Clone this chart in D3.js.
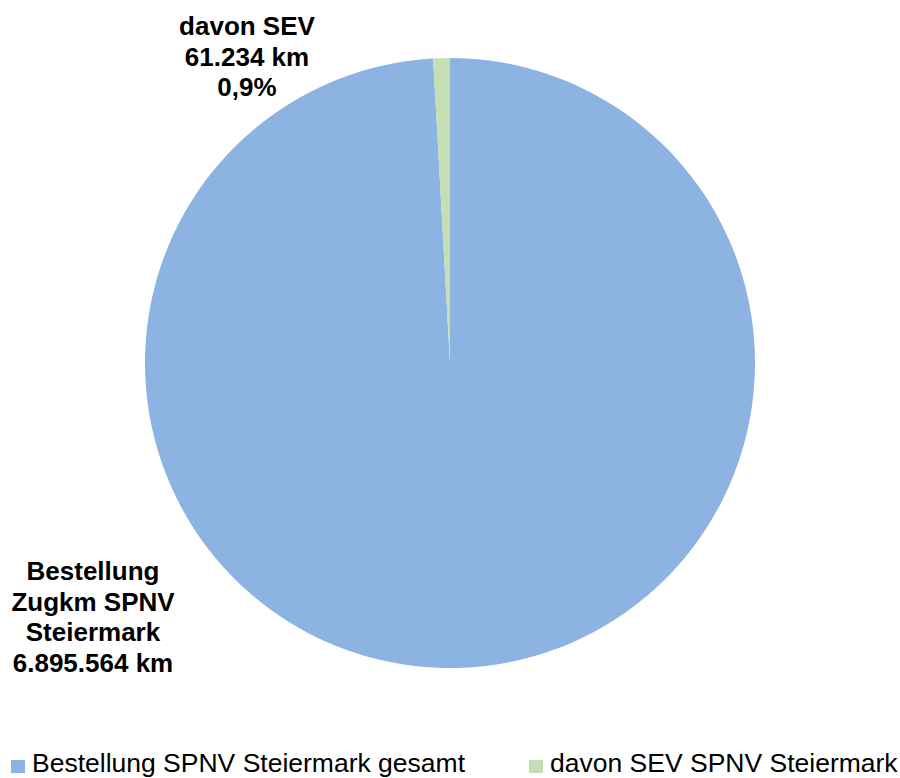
<!DOCTYPE html>
<html>
<head>
<meta charset="utf-8">
<script src="https://cdn.jsdelivr.net/npm/d3@7"></script>
<style>
  body { margin: 0; background: #fff; }
  text { font-family: "Liberation Sans", Arial, sans-serif; }
</style>
</head>
<body>
<div id="chart"></div>
<script>
// data
var categories = ["Bestellung SPNV Steiermark gesamt", "davon SEV SPNV Steiermark"];
var values = [6895564, 61234];
var labels = [
    ["Bestellung", "Zugkm SPNV", "Steiermark", "6.895.564 km"],
    ["davon SEV", "61.234 km", "0,9%"]
];
var colors = ["#8DB3E2", "#C4DFB4"];

var width = 900,
    height = 778,
    cx = 450,
    cy = 363,
    radius = 305;

var svg = d3.select("#chart").append("svg")
    .attr("width", width)
    .attr("height", height);

var pie = d3.pie().sort(null).value(function(d) { return d; });
var arc = d3.arc().innerRadius(0).outerRadius(radius);

var g = svg.append("g").attr("transform", "translate(" + cx + "," + cy + ")");

g.selectAll("path")
    .data(pie(values))
    .enter().append("path")
    .attr("d", arc)
    .attr("fill", function(d, i) { return colors[i]; });

// data labels (placed outside, like the original)
var labelPos = [[93, 580], [247, 35]];
var lineH = 30.5;

labels.forEach(function(lines, i) {
    var t = svg.append("text")
        .attr("text-anchor", "middle")
        .attr("font-size", 26)
        .attr("font-weight", "bold")
        .attr("fill", "#000");
    lines.forEach(function(s, j) {
        t.append("tspan")
            .attr("x", labelPos[i][0])
            .attr("y", labelPos[i][1] + j * lineH)
            .text(s);
    });
});

// legend
var legendX = [11, 529];
var legend = svg.selectAll(".legend")
    .data(categories)
    .enter().append("g")
    .attr("class", "legend")
    .attr("transform", function(d, i) { return "translate(" + legendX[i] + ",0)"; });

legend.append("rect")
    .attr("x", 0)
    .attr("y", 760)
    .attr("width", 14)
    .attr("height", 13)
    .attr("fill", function(d, i) { return colors[i]; });

legend.append("text")
    .attr("x", 21)
    .attr("y", 772)
    .attr("font-size", 26.5)
    .attr("fill", "#000")
    .text(function(d) { return d; });
</script>
</body>
</html>
